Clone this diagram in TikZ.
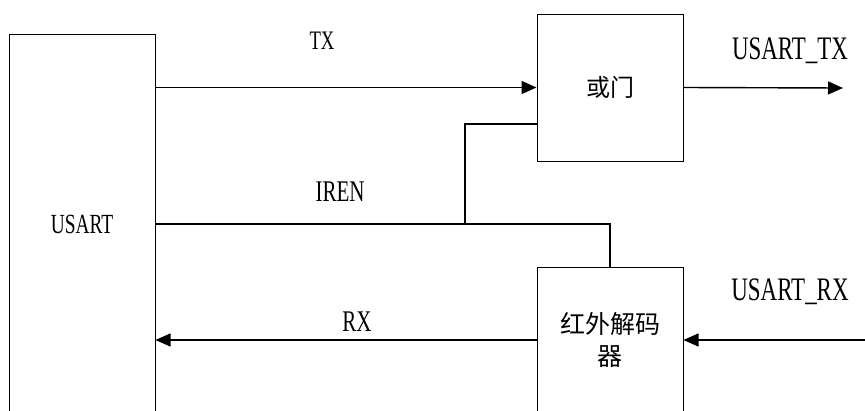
\documentclass[tikz,border=0pt]{standalone}
\usepackage{fontspec}
\setmainfont[FakeStretch=0.7]{Liberation Serif}
\newfontfamily\cjk{Noto Sans CJK SC}
\usetikzlibrary{arrows.meta}
\tikzset{
  blk/.style={draw, line width=1pt, inner sep=0pt},
  wire/.style={line width=1.4pt},
  arr/.style={wire, -{Triangle[length=15pt,width=13pt]}},
  lbl/.style={inner sep=0pt, anchor=center},
}
\begin{document}
\begin{tikzpicture}[x=1pt, y=-1pt]
\useasboundingbox (0,0) rectangle (865,410);
\clip (0,0) rectangle (865,410);
% blocks
\node[blk, minimum width=146pt, minimum height=380pt] (usart) at (82,224) {};
\node[lbl, font=\fontsize{27.7}{30}\selectfont] (usartlbl) at (82,224) {USART};
\node[blk, minimum width=146pt, minimum height=147pt, font=\cjk\fontsize{24}{30}\selectfont] (gate) at (610,87.5) {或门};
\node[blk, minimum width=146pt, minimum height=146pt, align=center, font=\cjk\fontsize{25}{32}\selectfont] (dec) at (610,340) {红外解码\\器};
% coordinates
\coordinate (txout) at (843,88);
\coordinate (rxin) at (866,340);
\coordinate (j) at (465,224);
\coordinate (k) at (610,224);
\coordinate (g2) at (537,124);
% connectors
\draw[arr] (usart.east |- gate.west) -- (gate.west);
\draw[arr] (gate.east) -- (txout);
\draw[wire] (usart.east) -- (k) -- (dec.north);
\draw[wire] (j) |- (g2);
\draw[arr] (dec.west) -- (usart.east |- dec.west);
\draw[arr] (rxin) -- (dec.east);
% labels
\node[lbl, font=\fontsize{26.7}{30}\selectfont] (tx) at (322,40.5) {TX};
\node[lbl, font=\fontsize{30}{32}\selectfont] (iren) at (340,192) {IREN};
\node[lbl, font=\fontsize{30}{32}\selectfont] (rx) at (357,322) {RX};
\node[lbl, font=\fontsize{32.8}{34}\selectfont] (utx) at (790,51) {USART\_TX};
\node[lbl, font=\fontsize{32.8}{34}\selectfont] (urx) at (790,292) {USART\_RX};
\end{tikzpicture}
\end{document}
